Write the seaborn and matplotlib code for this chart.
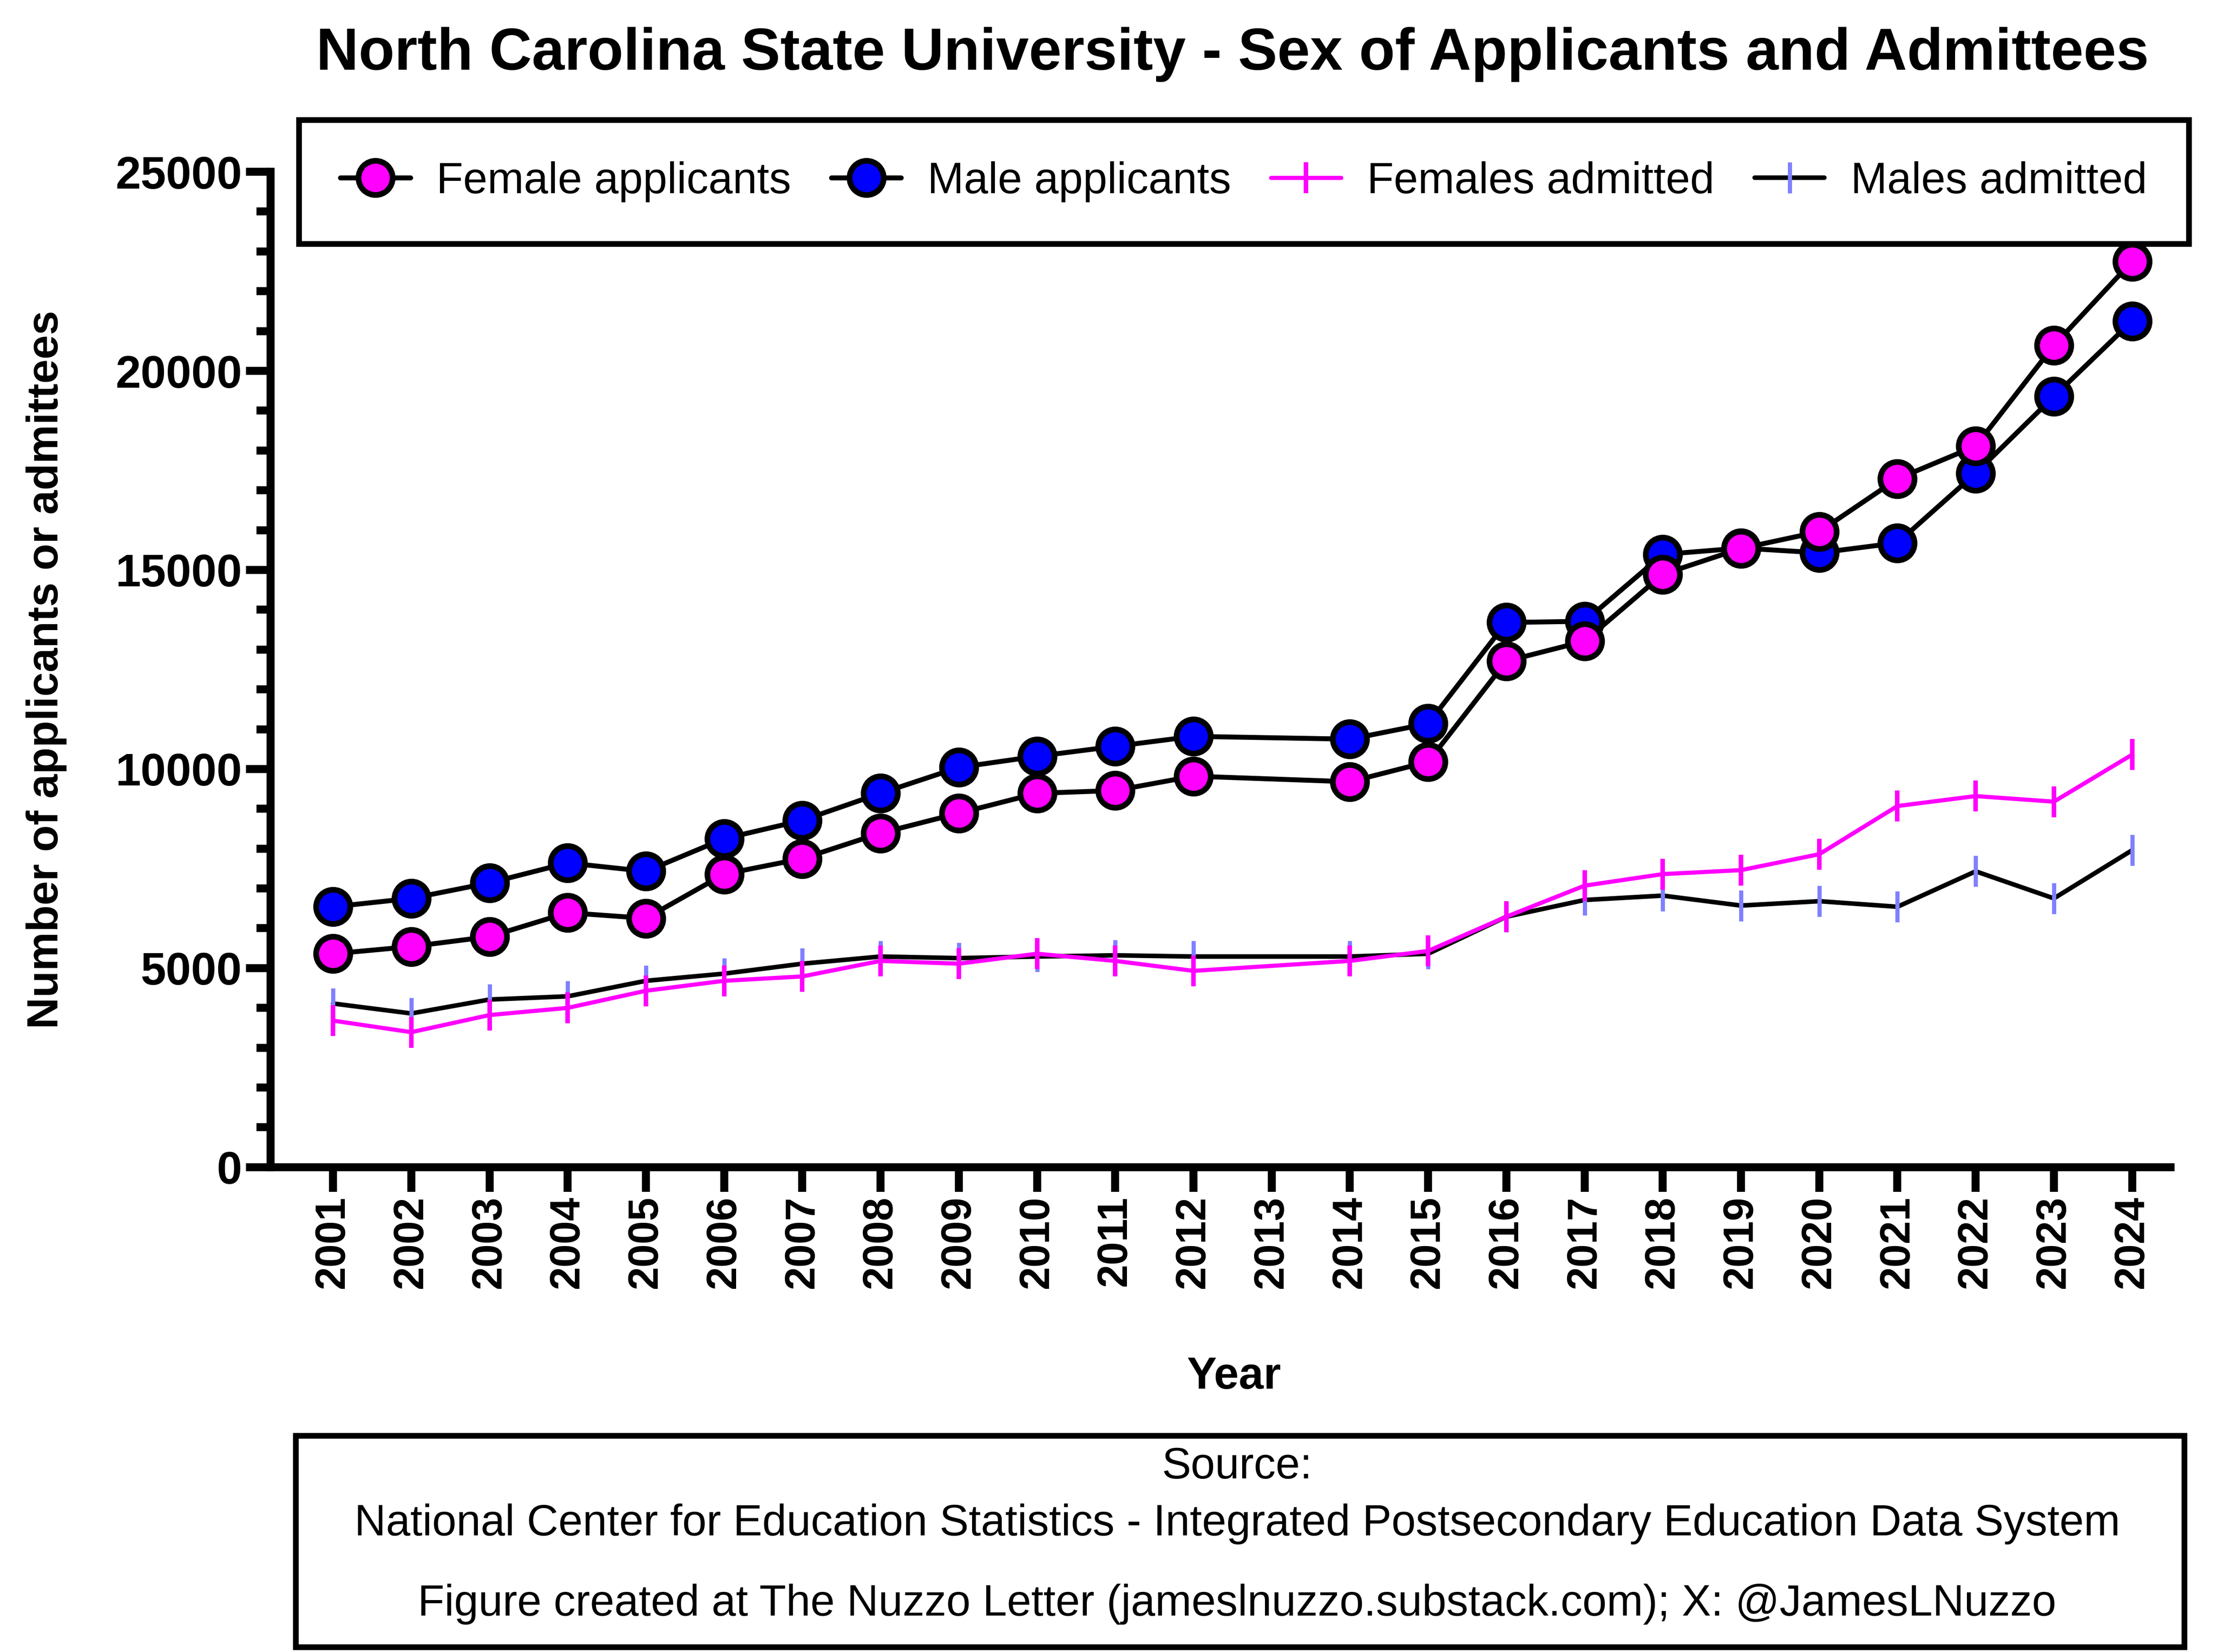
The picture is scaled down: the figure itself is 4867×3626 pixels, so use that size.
import numpy as np
import pandas as pd
import matplotlib.pyplot as plt
import matplotlib.patches as patches
import seaborn as sns

# Data (no data reported for 2013)
years = [2001, 2002, 2003, 2004, 2005, 2006, 2007, 2008, 2009, 2010, 2011, 2012,
         2014, 2015, 2016, 2017, 2018, 2019, 2020, 2021, 2022, 2023, 2024]
femaleApplicants = [5360, 5540, 5790, 6390, 6250, 7360, 7750, 8390, 8890, 9390, 9460, 9820,
                    9680, 10180, 12710, 13210, 14890, 15540, 15960, 17290, 18110, 20640, 22750]
maleApplicants = [6540, 6750, 7140, 7640, 7430, 8250, 8710, 9390, 10040, 10320, 10570, 10820,
                  10750, 11140, 13680, 13710, 15390, 15550, 15430, 15680, 17430, 19360, 21250]
femalesAdmitted = [3680, 3390, 3820, 4000, 4430, 4680, 4790, 5180, 5110, 5360, 5180, 4930,
                   5180, 5430, 6290, 7070, 7360, 7460, 7860, 9070, 9320, 9180, 10360]
malesAdmitted = [4110, 3860, 4210, 4290, 4680, 4860, 5110, 5290, 5250, 5290, 5320, 5290,
                 5290, 5360, 6290, 6710, 6820, 6570, 6680, 6540, 7430, 6750, 7960]
tickYears = list(range(2001, 2025))

sns.set_theme(style='ticks')
plt.rcParams['font.family'] = ['Liberation Sans', 'DejaVu Sans']
plt.rcParams.update({'text.color': 'black', 'axes.labelcolor': 'black',
                     'xtick.color': 'black', 'ytick.color': 'black',
                     'axes.edgecolor': 'black'})

fig = plt.figure(figsize=(4867 / 300, 3626 / 300), dpi=300)
ax = fig.add_axes([0.122, 0.2935, 0.857, 0.6025])

df = pd.DataFrame({'year': years,
                   'Female applicants': femaleApplicants,
                   'Male applicants': maleApplicants,
                   'Females admitted': femalesAdmitted,
                   'Males admitted': malesAdmitted})

# admitted series first so the applicant circles sit on top
sns.lineplot(data=df, x='year', y='Males admitted', ax=ax, color='black', lw=2.4,
             marker='|', markersize=16.5, markeredgecolor='#8080ff', markeredgewidth=2.2,
             label='Males admitted', zorder=3)
sns.lineplot(data=df, x='year', y='Females admitted', ax=ax, color='#ff00ff', lw=2.2,
             marker='|', markersize=16.5, markeredgecolor='#ff00ff', markeredgewidth=2.4,
             label='Females admitted', zorder=4)
sns.lineplot(data=df, x='year', y='Male applicants', ax=ax, color='black', lw=2.6,
             marker='o', markersize=18, markerfacecolor='#0000ff', markeredgecolor='black',
             markeredgewidth=3, label='Male applicants', zorder=5)
sns.lineplot(data=df, x='year', y='Female applicants', ax=ax, color='black', lw=2.6,
             marker='o', markersize=18, markerfacecolor='#ff00ff', markeredgecolor='black',
             markeredgewidth=3, label='Female applicants', zorder=6)

ax.set_xlim(2001 - 0.8, 2024 + 0.49)
ax.set_ylim(0, 25000)
ax.set_xticks(tickYears)
ax.set_xticklabels([str(y) for y in tickYears], rotation=90, fontsize=22, fontweight='bold')
ax.set_yticks(np.arange(0, 25001, 5000))
ax.set_yticks(np.arange(0, 25001, 1000), minor=True)
ax.set_yticklabels([str(v) for v in range(0, 25001, 5000)], fontsize=24, fontweight='bold')
ax.tick_params(axis='both', which='major', length=13, width=4.2, pad=2)
ax.tick_params(axis='y', which='minor', length=7.5, width=4.2)
for side in ['top', 'right']:
    ax.spines[side].set_visible(False)
for side in ['left', 'bottom']:
    ax.spines[side].set_linewidth(4.2)

ax.set_xlabel('Year', fontsize=23.5, fontweight='bold')
ax.xaxis.set_label_coords(0.507, -0.19)
ax.set_ylabel('Number of applicants or admittees', fontsize=23, fontweight='bold')
ax.yaxis.set_label_coords(-0.107, 0.5)

handles, labels = ax.get_legend_handles_labels()
order = ['Female applicants', 'Male applicants', 'Females admitted', 'Males admitted']
hmap = dict(zip(labels, handles))
if ax.get_legend():
    ax.get_legend().remove()
leg = fig.legend([hmap[k] for k in order], order, loc='center', ncol=4,
                 bbox_to_anchor=(0.561, 0.89), fontsize=23, frameon=True, fancybox=False,
                 framealpha=1, edgecolor='black', handlelength=1.6, columnspacing=0.92,
                 borderpad=0.95, handletextpad=0.6, borderaxespad=0)
leg.get_frame().set_linewidth(3)

fig.suptitle('North Carolina State University - Sex of Applicants and Admittees',
             x=0.556, y=0.967, va='center', fontsize=31, fontweight='bold')

# source box at the bottom
box = patches.Rectangle((0.1333, 0.003), 0.852, 0.128, transform=fig.transFigure,
                        fill=False, edgecolor='black', linewidth=3)
fig.patches.append(box)
fig.text(0.558, 0.112, 'Source:', ha='center', va='center', fontsize=23)
fig.text(0.558, 0.0775, 'National Center for Education Statistics - Integrated Postsecondary Education Data System',
         ha='center', va='center', fontsize=23)
fig.text(0.558, 0.029, 'Figure created at The Nuzzo Letter (jameslnuzzo.substack.com); X: @JamesLNuzzo',
         ha='center', va='center', fontsize=23)

fig.savefig('out.png', dpi=300, facecolor='white')
